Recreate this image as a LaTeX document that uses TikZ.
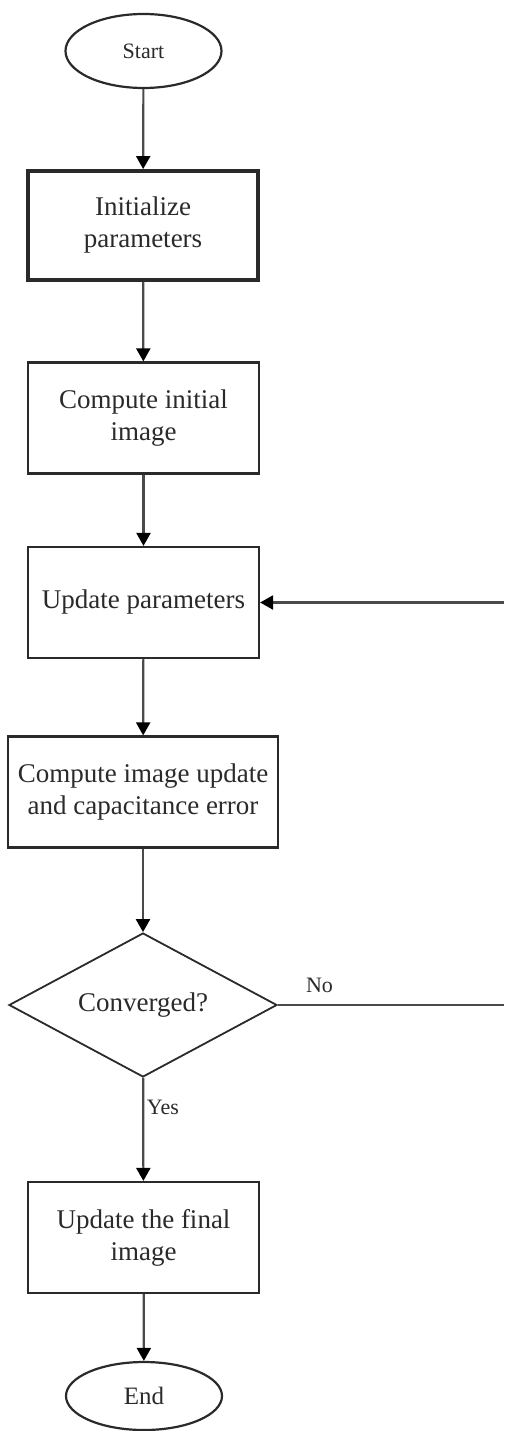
\documentclass[tikz,border=0pt]{standalone}
\usepackage{fontspec}
\setmainfont{Liberation Serif}
\usetikzlibrary{shapes.geometric,arrows.meta}
\definecolor{ink}{HTML}{2A2A2A}
\definecolor{wire}{HTML}{4A4A4A}
\tikzset{
  box/.style={draw=ink, line width=2.2pt, rectangle, inner sep=0pt, minimum width=231pt, minimum height=111pt, align=center, text=ink, font=\fontsize{27}{32}\selectfont},
  term/.style={draw=ink, line width=2.2pt, ellipse, inner sep=0pt, minimum width=156pt, minimum height=74pt, text=ink},
  decide/.style={draw=ink, line width=1.8pt, diamond, aspect=1.86, inner sep=0pt, minimum width=268pt, minimum height=144pt, text=ink, font=\fontsize{27}{32}\selectfont},
  wireline/.style={draw=wire, line width=2.2pt},
  arr/.style={wireline, -{Triangle[length=13pt,width=14pt,fill=black,color=black]}},
  lbl/.style={text=ink, inner sep=0pt, font=\fontsize{22}{26}\selectfont}
}
\begin{document}
\begin{tikzpicture}[x=1pt,y=-1pt]
\useasboundingbox (0,0) rectangle (504,1431);
\node[term, font=\fontsize{22}{26}\selectfont] (start) at (143.5,51) {Start};
\node[box, line width=3.8pt, minimum width=230pt, minimum height=109pt] (init) at (143,225.5) {Initialize\\parameters};
\node[box] (cinit) at (143.5,418) {Compute initial\\image};
\node[box] (upd) at (143.5,602.5) {Update parameters};
\node[box, minimum width=270pt] (cupd) at (143,792) {Compute image update\\and capacitance error};
\node[decide] (conv) at (143,1005) {Converged?};
\node[box] (final) at (143.5,1237.5) {Update the final\\image};
\node[term, minimum height=68pt, font=\fontsize{25}{30}\selectfont] (end) at (144,1396) {End};
\coordinate (rin) at (504,602.5);
\coordinate (rout) at (504,1005);
\draw[arr] (start) -- (init);
\draw[arr] (init) -- (cinit);
\draw[arr] (cinit) -- (upd);
\draw[arr] (upd) -- (cupd);
\draw[arr] (cupd) -- (conv);
\draw[arr] (conv) -- (final);
\draw[arr] (final) -- (end);
\draw[wireline] (conv.east) -- (rout);
\draw[arr] (rin) -- (upd.east);
\node[lbl] (no) at (319.5,985) {No};
\node[lbl] (yes) at (163,1107) {Yes};
\end{tikzpicture}
\end{document}
